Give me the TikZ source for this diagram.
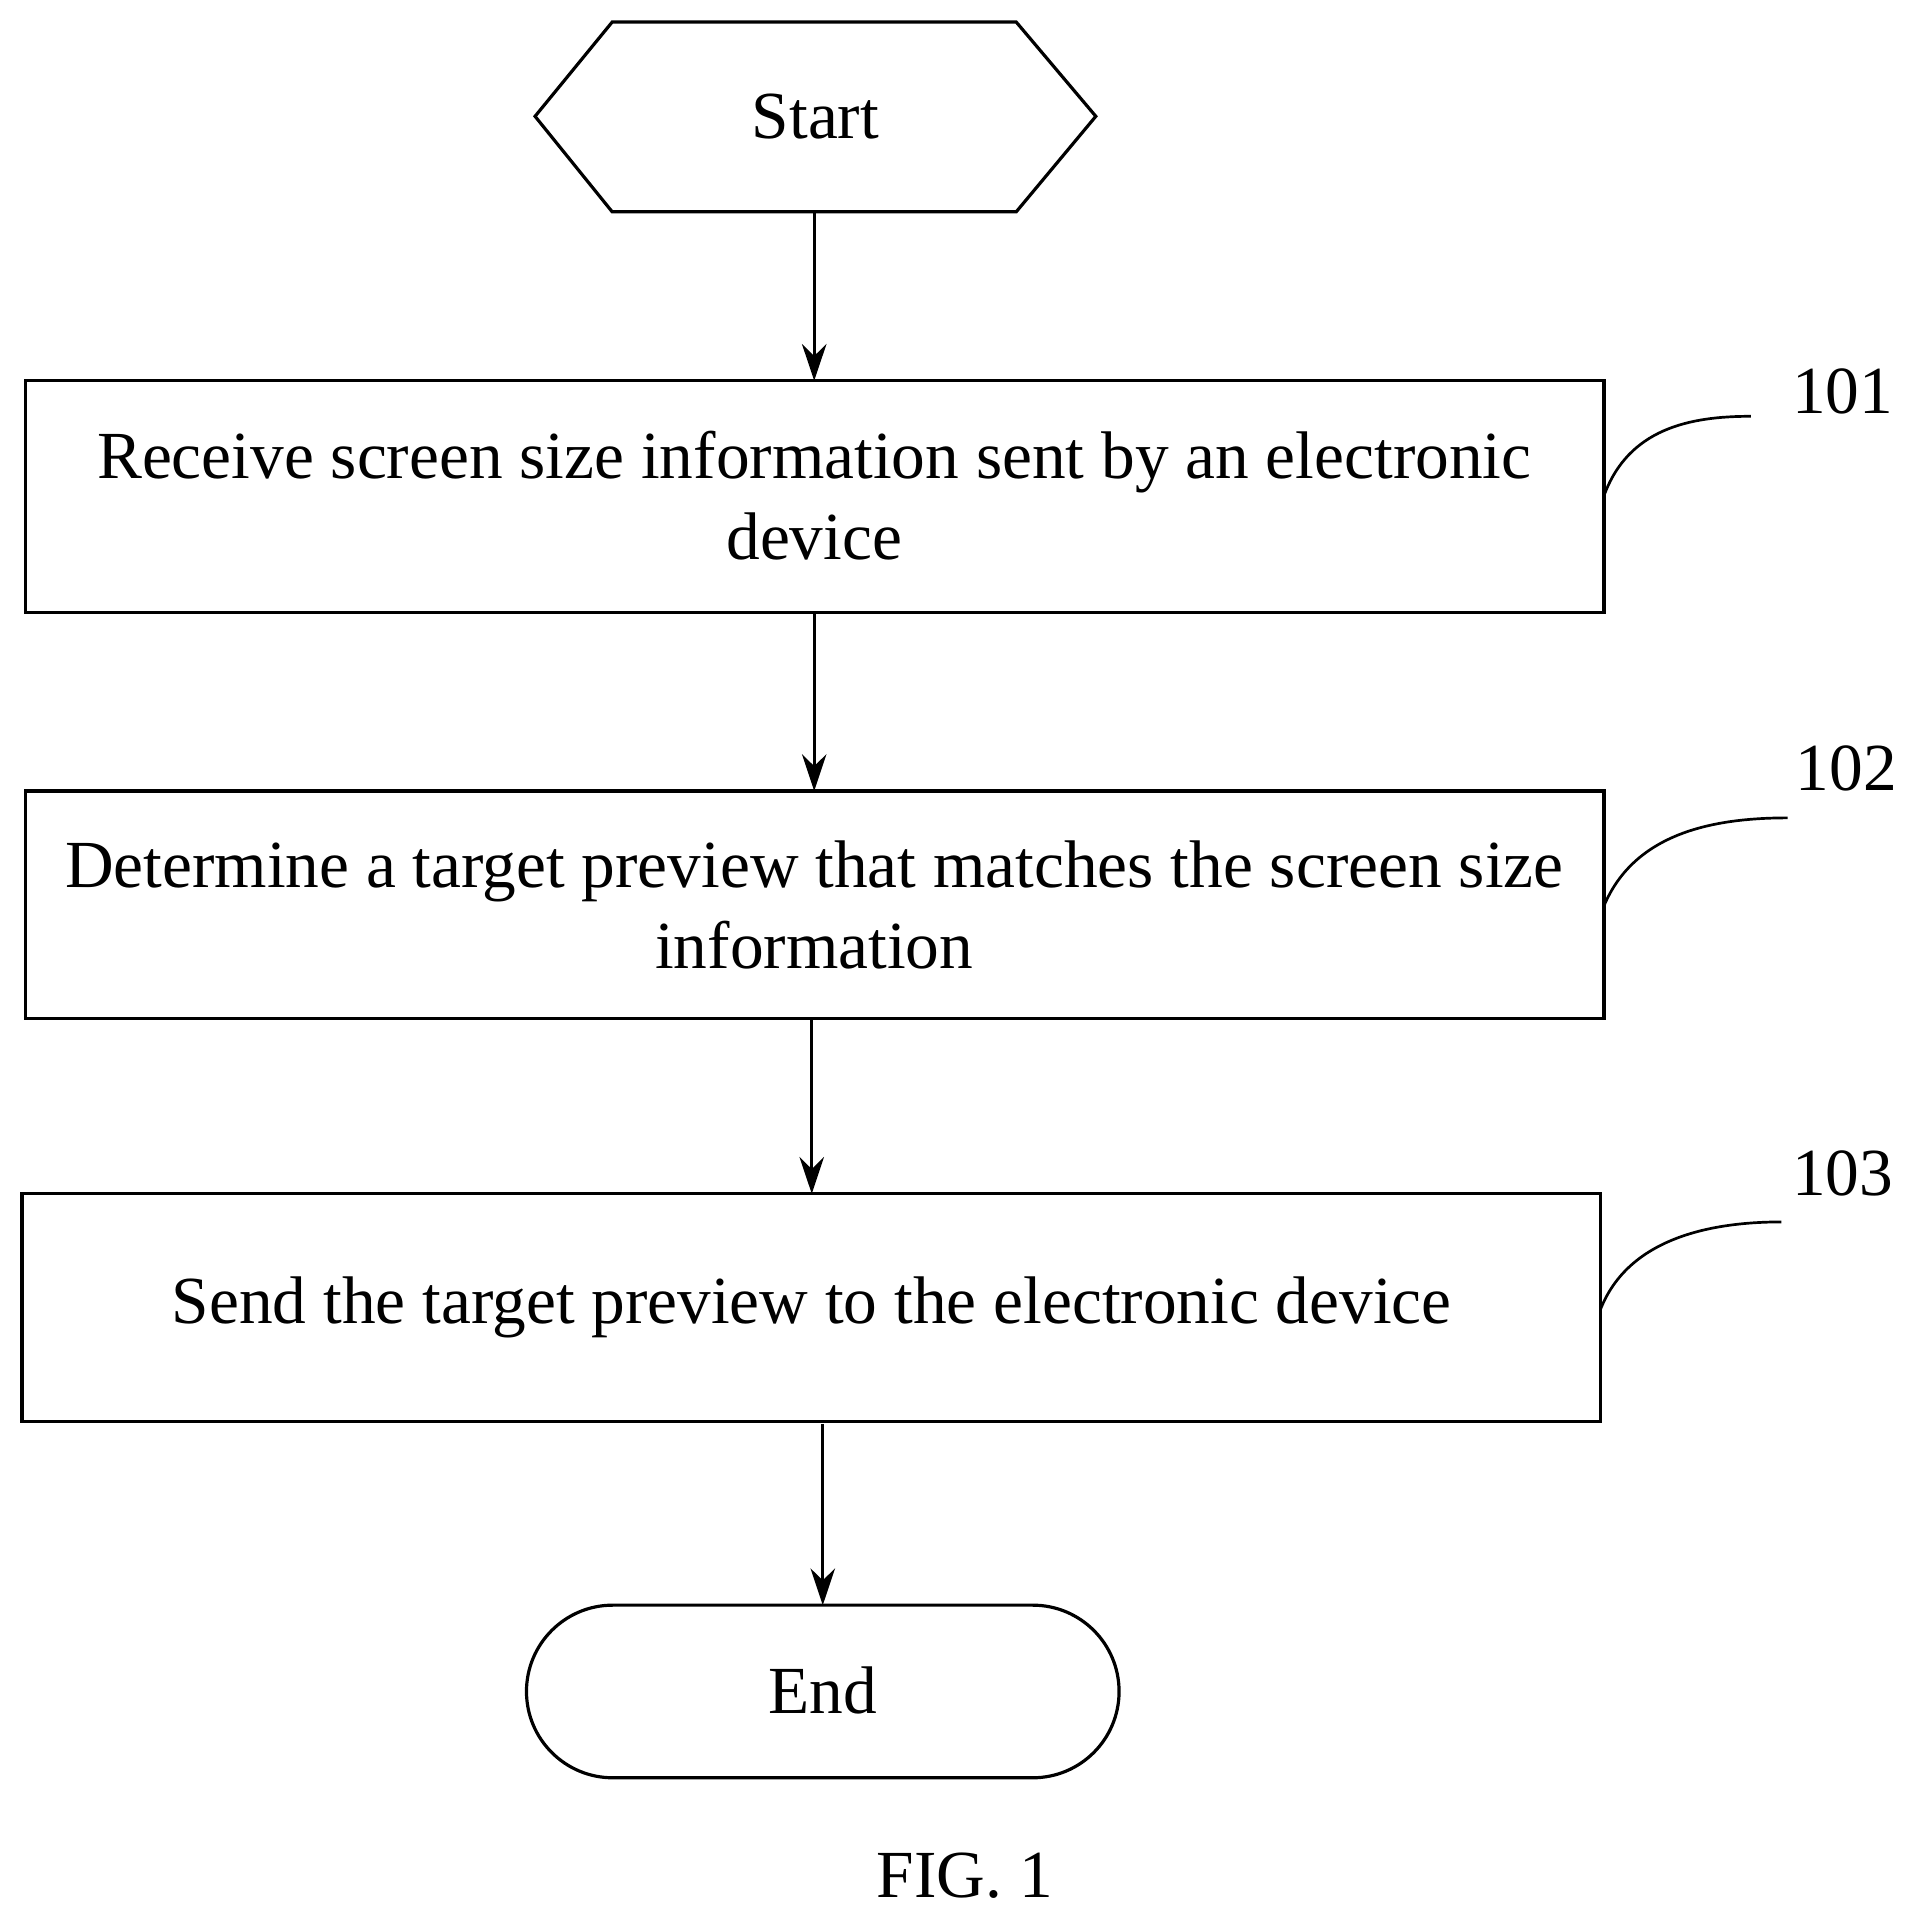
\documentclass[tikz,border=0pt]{standalone}
\usepackage{fontspec}
\setmainfont{Liberation Serif}
\usetikzlibrary{arrows.meta}
\begin{document}
\begin{tikzpicture}[x=1pt,y=-1pt,line width=2.2pt,
  lbl/.style={font=\fontsize{55}{66}\selectfont,align=center},
  box/.style={draw,line width=2.6pt},
  arr/.style={->,>={Stealth[length=30pt,width=20pt]}}]
\useasboundingbox (0,0) rectangle (1556,1560);
% start hexagon
\draw[box] (437,95) -- (500,18) -- (830,18) -- (895,95) -- (830,173) -- (500,173) -- cycle;
\node[lbl] (start) at (666,95) {Start};
\coordinate (sb) at (665,173);
% boxes
\draw[box] (21,311) rectangle (1310,500);
\node[lbl] (b1) at (665,405) {Receive screen size information sent by an electronic\\device};
\draw[box] (21,646) rectangle (1310,832);
\node[lbl] (b2) at (665,739) {Determine a target preview that matches the screen size\\information};
\draw[box] (18,975) rectangle (1307,1161);
\node[lbl] (b3) at (663,1068) {Send the target preview to the electronic device};
\draw[box,rounded corners=70.5pt] (430,1311) rectangle (914,1452);
\node[lbl] (end) at (672,1381) {End};
\coordinate (a1) at (665,311); \coordinate (a1s) at (665,500);
\coordinate (a2) at (665,646); \coordinate (a2s) at (663,832);
\coordinate (a3) at (663,975); \coordinate (a3s) at (672,1163);
\coordinate (a4) at (672,1311);
\draw[arr] (sb) -- (a1);
\draw[arr] (a1s) -- (a2);
\draw[arr] (a2s) -- (a3);
\draw[arr] (a3s) -- (a4);
% labels
\node[lbl] (l1) at (1505,320) {101};
\node[lbl] (l2) at (1508,628) {102};
\node[lbl] (l3) at (1505,958) {103};
\coordinate (c1) at (1310,405); \coordinate (d1) at (1430,340);
\coordinate (c2) at (1310,740); \coordinate (d2) at (1460,668);
\coordinate (c3) at (1307,1070); \coordinate (d3) at (1455,998);
\draw (c1) .. controls (1330,350) and (1380,340) .. (d1);
\draw (c2) .. controls (1335,680) and (1400,668) .. (d2);
\draw (c3) .. controls (1330,1010) and (1400,998) .. (d3);
\node[lbl] (fig) at (788,1532) {FIG. 1};
\end{tikzpicture}
\end{document}
